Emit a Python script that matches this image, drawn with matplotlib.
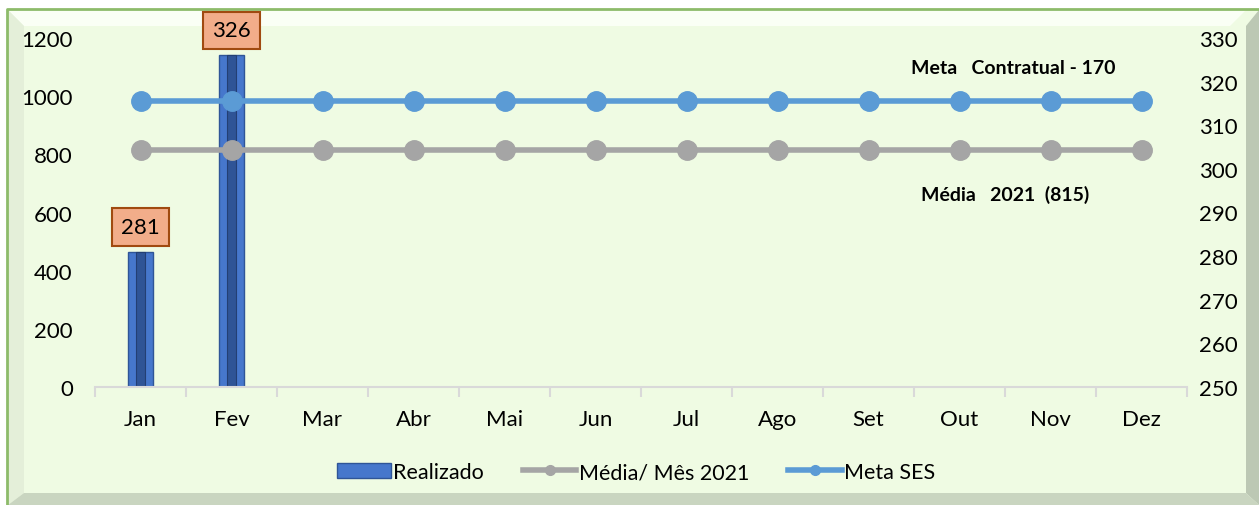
import numpy as np
import matplotlib.pyplot as plt
from matplotlib.patches import Rectangle, Polygon
from matplotlib.lines import Line2D

plt.rcParams['font.family'] = ['Lato', 'DejaVu Sans']

meses = ['Jan', 'Fev', 'Mar', 'Abr', 'Mai', 'Jun', 'Jul', 'Ago', 'Set', 'Out', 'Nov', 'Dez']
realizado = [281, 326]              # eixo secundario
media_2021 = [815] * 12             # eixo principal
meta_ses = [985] * 12               # eixo principal

x = np.arange(len(meses))

W, H = 1259, 506
fig = plt.figure(figsize=(W / 100, H / 100), dpi=100)
fig.patch.set_facecolor('white')

def fx(px):
    return px / W

def fy(py):
    return 1 - py / H

# moldura com efeito bisel
fig.patches.append(Rectangle((fx(7), fy(506)), fx(1252), fy(10) - fy(506),
                             transform=fig.transFigure, facecolor='#EFFBE3',
                             edgecolor='none', zorder=-10))
fig.patches.append(Polygon([(fx(8), fy(11)), (fx(1246), fy(11)), (fx(1230), fy(27)),
                            (fx(24), fy(27))], closed=True, transform=fig.transFigure,
                           facecolor='#FAFFF5', edgecolor='none', zorder=-9))
fig.patches.append(Polygon([(fx(8), fy(11)), (fx(24), fy(27)), (fx(24), fy(494)),
                            (fx(8), fy(506))], closed=True, transform=fig.transFigure,
                           facecolor='#E4EFD9', edgecolor='none', zorder=-9))
fig.patches.append(Polygon([(fx(1259), fy(11)), (fx(1259), fy(506)), (fx(1246), fy(494)),
                            (fx(1246), fy(27))], closed=True, transform=fig.transFigure,
                           facecolor='#BCC8B4', edgecolor='none', zorder=-9))
fig.patches.append(Polygon([(fx(8), fy(506)), (fx(24), fy(494)), (fx(1246), fy(494)),
                            (fx(1259), fy(506))], closed=True, transform=fig.transFigure,
                           facecolor='#C9D5C0', edgecolor='none', zorder=-9))
fig.lines.append(Line2D([fx(7), fx(7), fx(1259)], [fy(506), fy(10), fy(10)],
                        transform=fig.transFigure, color='#8DBB6A', lw=2, zorder=-8))

ax = fig.add_axes([fx(95), fy(388), fx(1187) - fx(95), fy(39) - fy(388)])
ax.set_facecolor('none')
ax2 = ax.twinx()

# barras (eixo secundario)
xb = x[:len(realizado)]
ax2.bar(xb, realizado, width=0.28, color='#4677CC', edgecolor='#2F5597', linewidth=1.0, zorder=3)
ax2.bar(xb, realizado, width=0.09, color='#2F5496', edgecolor='#233F73', linewidth=0.8, zorder=4)
for xi, v in zip(xb, realizado):
    ax2.annotate(str(v), (xi, v), xytext=(0, 18), textcoords='offset points',
                 ha='center', va='center', fontsize=16, color='black', zorder=6,
                 bbox=dict(boxstyle='square,pad=0.4', facecolor='#F2AD8A',
                           edgecolor='#A04A10', linewidth=1.5))
ax2.set_ylim(250, 330)
ax2.set_yticks(np.arange(250, 331, 10))

# linhas (eixo principal)
ax.plot(x, media_2021, color='#A5A5A5', lw=4, marker='o', ms=14, zorder=4)
ax.plot(x, meta_ses, color='#5B9BD5', lw=4, marker='o', ms=14, zorder=4)
ax.set_ylim(0, 1200)
ax.set_yticks(np.arange(0, 1201, 200))
ax.set_xlim(-0.5, 11.5)
ax.set_xticks(x)
ax.set_xticklabels(meses)
ax.set_xticks(np.arange(-0.5, 12, 1), minor=True)
ax.tick_params(axis='x', which='major', length=0, pad=16, labelsize=16)
ax.tick_params(axis='x', which='minor', length=7, width=1.5, color='#D9D9D9', direction='out')
ax.tick_params(axis='y', length=0, pad=16, labelsize=16)
ax2.tick_params(axis='y', length=0, pad=9, labelsize=16)

for a in (ax, ax2):
    for s in ['top', 'left', 'right', 'bottom']:
        a.spines[s].set_visible(False)
ax.spines['bottom'].set_visible(True)
ax.spines['bottom'].set_color('#D9D9D9')
ax.spines['bottom'].set_linewidth(1.5)

ax.set_zorder(ax2.get_zorder() + 1)
ax.patch.set_visible(False)

fig.text(fx(1013), fy(69), 'Meta   Contratual - 170', ha='center', va='center',
         fontsize=14, fontweight='bold')
fig.text(fx(1005), fy(195), 'Média   2021  (815)', ha='center', va='center',
         fontsize=14, fontweight='bold')

handles = [Rectangle((0, 0), 1, 1, facecolor='#4677CC', edgecolor='#2F5597'),
           Line2D([], [], color='#A5A5A5', lw=4, marker='o', ms=7),
           Line2D([], [], color='#5B9BD5', lw=4, marker='o', ms=7)]
fig.legend(handles, ['Realizado', 'Média/ Mês 2021', 'Meta SES'], loc='center',
           bbox_to_anchor=(fx(636), fy(473)), ncol=3, frameon=False, fontsize=15.5,
           handlelength=2.5, handletextpad=0.1, columnspacing=1.8)

fig.savefig('out.png', dpi=100, facecolor=fig.get_facecolor())
